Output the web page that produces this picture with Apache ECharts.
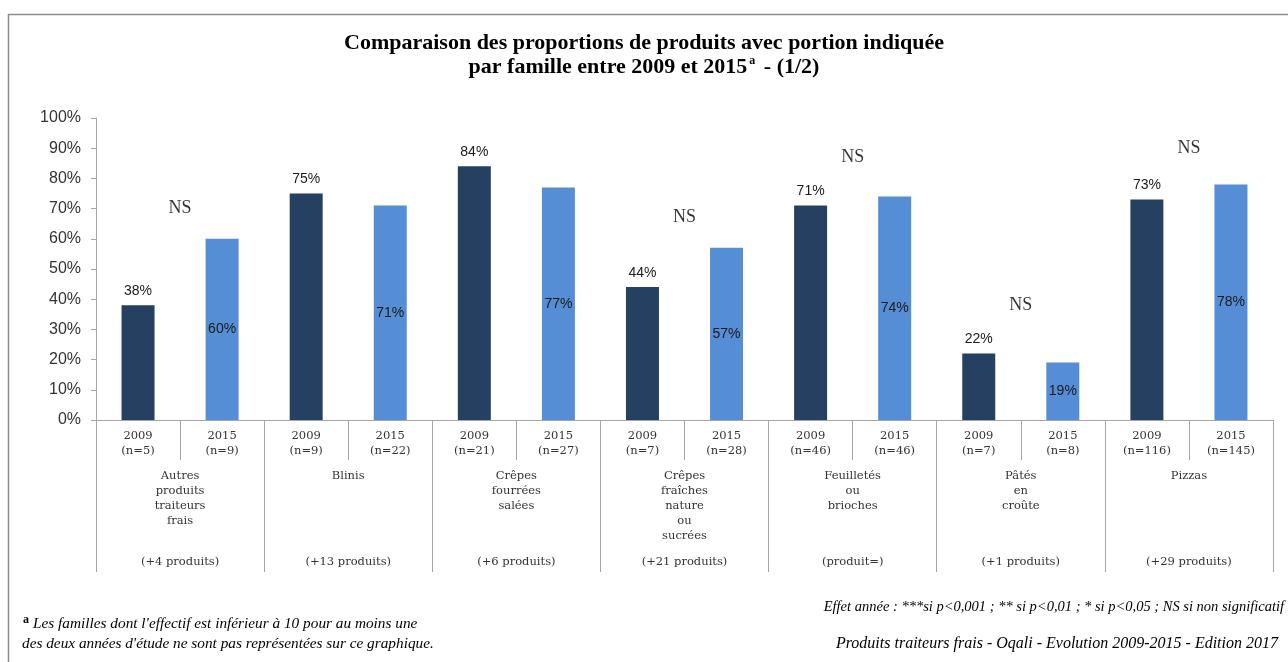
<!DOCTYPE html>
<html>
<head>
<meta charset="utf-8">
<script src="https://cdn.jsdelivr.net/npm/echarts@6/dist/echarts.min.js"></script>
<style>html,body{margin:0;padding:0;background:#fff}#c{width:1288px;height:662px}</style>
</head>
<body>
<div id="c"></div>
<script>
// ---- data ----
const families = [
  "Autres\nproduits\ntraiteurs\nfrais",
  "Blinis",
  "Crêpes\nfourrées\nsalées",
  "Crêpes\nfraîches\nnature\nou\nsucrées",
  "Feuilletés\nou\nbrioches",
  "Pâtés\nen\ncroûte",
  "Pizzas"
];
const productChange = ["(+4 produits)", "(+13 produits)", "(+6 produits)", "(+21 produits)", "(produit=)", "(+1 produits)", "(+29 produits)"];
const years = ["2009", "2015"];
const n2009 = [5, 9, 21, 7, 46, 7, 116];
const n2015 = [9, 22, 27, 28, 46, 8, 145];
const values2009 = [38, 75, 84, 44, 71, 22, 73];
const values2015 = [60, 71, 77, 57, 74, 19, 78];
const significance = ["NS", "", "", "NS", "NS", "NS", "NS"];
const signifLevel = [70, null, null, 67, 87, 38, 90];
const yTicks = [0, 10, 20, 30, 40, 50, 60, 70, 80, 90, 100];

// ---- build ----
const C2009 = "#254061", C2015 = "#558ED5";
const slotLabels = [], slotData = [];
families.forEach((f, i) => {
  slotLabels.push(years[0] + "\n(n=" + n2009[i] + ")");
  slotLabels.push(years[1] + "\n(n=" + n2015[i] + ")");
  slotData.push({ value: values2009[i], itemStyle: { color: C2009 }, label: { position: "top", distance: 7 } });
  slotData.push({ value: values2015[i], itemStyle: { color: C2015 }, label: { position: "inside" } });
});
const nsData = signifLevel.map((v, i) => v == null ? "-" : { value: v, name: significance[i] });

const axisGray = "#A6A6A6";
const serif = "'DejaVu Serif', serif";
const chart = echarts.init(document.getElementById("c"), null, { renderer: "canvas" });
chart.setOption({
  backgroundColor: "#fff",
  animation: false,
  title: {
    left: "center", top: 26,
    text: "Comparaison des proportions de produits avec portion indiquée\npar famille entre 2009 et 2015{sup|a} - (1/2)",
    textStyle: {
      fontFamily: "'Liberation Serif', serif", fontWeight: "bold", fontSize: 22, lineHeight: 24, color: "#000",
      rich: { sup: { fontFamily: "'Liberation Serif', serif", fontWeight: "bold", fontSize: 12, verticalAlign: "top", lineHeight: 20, padding: [0, 3, 0, 2] } }
    }
  },
  grid: { left: 96, right: 15, top: 118, bottom: 242, containLabel: false, outerBoundsMode: "none" },
  xAxis: [
    {
      type: "category", data: slotLabels, position: "bottom",
      axisLine: { show: true, lineStyle: { color: axisGray, width: 1 } },
      axisTick: { show: true, interval: 0, length: 40, lineStyle: { color: axisGray } },
      axisLabel: { interval: 0, margin: 9, fontFamily: serif, fontSize: 11.5, lineHeight: 15, color: "#333" }
    },
    {
      type: "category", data: families, position: "bottom",
      axisLine: { show: false },
      axisTick: { show: true, interval: 0, length: 152, lineStyle: { color: axisGray } },
      axisLabel: { interval: 0, margin: 49, fontFamily: serif, fontSize: 11.5, lineHeight: 15, color: "#333" }
    },
    {
      type: "category", data: productChange, position: "bottom",
      axisLine: { show: false }, axisTick: { show: false },
      axisLabel: { interval: 0, margin: 135, fontFamily: serif, fontSize: 11.5, lineHeight: 15, color: "#333" }
    }
  ],
  yAxis: {
    type: "value", min: 0, max: 100, interval: 10,
    axisLine: { show: true, lineStyle: { color: axisGray } },
    axisTick: { show: true, length: 5, lineStyle: { color: axisGray } },
    splitLine: { show: false },
    axisLabel: { formatter: v => yTicks.includes(v) ? v + "%" : "", margin: 15, fontFamily: "'Liberation Sans', sans-serif", fontSize: 16, color: "#333" }
  },
  series: [
    {
      type: "bar", xAxisIndex: 0, data: slotData, barWidth: 33,
      label: { show: true, formatter: "{c}%", fontFamily: "'Liberation Sans', sans-serif", fontSize: 14, color: "#1a1a1a" }
    },
    {
      type: "scatter", xAxisIndex: 1, data: nsData, symbolSize: 0,
      label: { show: true, position: "inside", formatter: p => p.name, fontFamily: "'Liberation Serif', serif", fontSize: 18, color: "#000" }
    }
  ],
  graphic: [
    { type: "line", shape: { x1: 8, y1: 14.5, x2: 1288, y2: 14.5 }, style: { stroke: "#8c8c8c", lineWidth: 1.5 } },
    { type: "line", shape: { x1: 8.5, y1: 14, x2: 8.5, y2: 662 }, style: { stroke: "#8c8c8c", lineWidth: 1.5 } },
    { type: "text", left: 23, top: 614, style: { text: "a", font: "bold 12px 'Liberation Serif', serif", fill: "#000" } },
    { type: "text", left: 33, top: 616, style: { text: "Les familles dont l'effectif est inférieur à 10 pour au moins une", font: "italic 15.3px 'Liberation Serif', serif", fill: "#000" } },
    { type: "text", left: 22, top: 636, style: { text: "des deux années d'étude ne sont pas représentées sur ce graphique.", font: "italic 15.3px 'Liberation Serif', serif", fill: "#000" } },
    { type: "text", right: 4, top: 600, style: { text: "Effet année : ***si p<0,001 ; ** si p<0,01 ; * si p<0,05 ; NS si non significatif", font: "italic 14.5px 'Liberation Serif', serif", fill: "#000" } },
    { type: "text", right: 10, top: 636, style: { text: "Produits traiteurs frais - Oqali - Evolution 2009-2015 - Edition 2017", font: "italic 16px 'Liberation Serif', serif", fill: "#000" } }
  ]
});
</script>
</body>
</html>
